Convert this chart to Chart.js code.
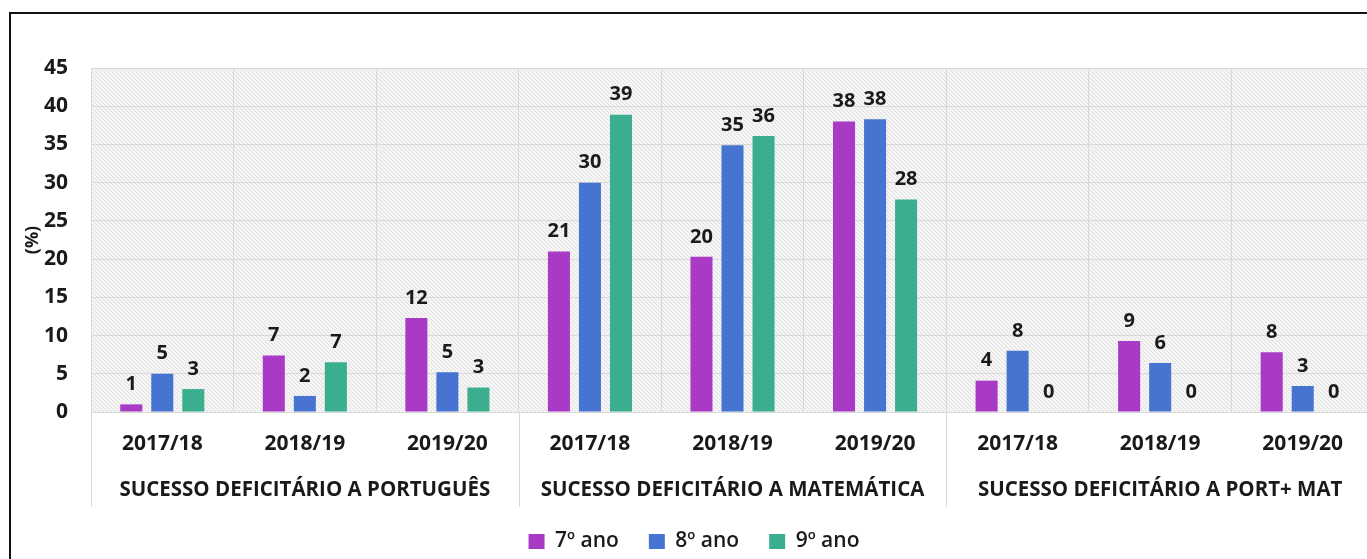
<!DOCTYPE html>
<html>
<head>
<meta charset="utf-8">
<script src="https://cdn.jsdelivr.net/npm/chart.js@4.4.0/dist/chart.umd.min.js"></script>
<style>
  html, body { margin: 0; padding: 0; background: #fff; overflow: hidden; }
  #frame { position: absolute; left: 9px; top: 12px; width: 1400px; height: 600px; border: 2px solid #111; }
  #wrap { position: absolute; left: 0; top: 0; width: 1380px; height: 562px; }
</style>
</head>
<body>
<div id="frame"></div>
<div id="wrap"><canvas id="chart"></canvas></div>
<script>
const years = ["2017/18", "2018/19", "2019/20", "2017/18", "2018/19", "2019/20", "2017/18", "2018/19", "2019/20"];
const groups = ["SUCESSO DEFICITÁRIO A PORTUGUÊS", "SUCESSO DEFICITÁRIO A MATEMÁTICA", "SUCESSO DEFICITÁRIO A PORT+ MAT"];
const seriesNames = ["7º ano", "8º ano", "9º ano"];
const ano7 = [1.0, 7.4, 12.3, 21.0, 20.3, 38.0, 4.1, 9.3, 7.8];
const ano8 = [5.0, 2.1, 5.2, 30.0, 34.9, 38.3, 8.0, 6.4, 3.4];
const ano9 = [3.0, 6.5, 3.2, 38.9, 36.1, 27.8, 0, 0, 0];
const yMax = 45;
const yStep = 5;

const colors = ["#a93ac5", "#4674d0", "#3aae8e"];
const textColor = "#1a1a1a";
const gridColor = "#d9d9d9";

Chart.defaults.font.family = "'Open Sans', sans-serif";
Chart.defaults.color = textColor;

// fine diagonal texture behind the plot
function makeHatch() {
  const c = document.createElement("canvas");
  c.width = 4;
  c.height = 4;
  const g = c.getContext("2d");
  g.fillStyle = "#f5f5f5";
  g.fillRect(0, 0, 4, 4);
  g.strokeStyle = "#e0e0e0";
  g.lineWidth = 1;
  g.beginPath();
  g.moveTo(-1, -1);
  g.lineTo(5, 5);
  g.stroke();
  return c;
}

const hatchPlugin = {
  id: "hatch",
  beforeDraw(chart) {
    const { ctx, chartArea } = chart;
    ctx.save();
    ctx.fillStyle = ctx.createPattern(makeHatch(), "repeat");
    ctx.fillRect(chartArea.left, chartArea.top, chartArea.right - chartArea.left, chartArea.bottom - chartArea.top);
    ctx.restore();
  },
};

const valueLabels = {
  id: "valueLabels",
  afterDatasetsDraw(chart) {
    const ctx = chart.ctx;
    ctx.save();
    ctx.font = "bold 20px 'Open Sans'";
    ctx.fillStyle = textColor;
    ctx.textAlign = "center";
    ctx.textBaseline = "middle";
    chart.data.datasets.forEach((ds, i) => {
      chart.getDatasetMeta(i).data.forEach((bar, j) => {
        ctx.fillText(String(Math.round(ds.data[j])), bar.x, bar.y - 20);
      });
    });
    ctx.restore();
  },
};

const groupLabels = {
  id: "groupLabels",
  afterDraw(chart) {
    const ctx = chart.ctx;
    const x = chart.scales.x;
    const bottom = chart.chartArea.bottom;
    ctx.save();
    ctx.strokeStyle = gridColor;
    ctx.lineWidth = 1;
    for (let k = 0; k <= groups.length; k++) {
      const px = Math.round(x.getPixelForValue(k * 3 - 0.5)) + 0.5;
      ctx.beginPath();
      ctx.moveTo(px, bottom);
      ctx.lineTo(px, bottom + 95);
      ctx.stroke();
    }
    ctx.font = "bold 20.5px 'Open Sans'";
    ctx.fillStyle = textColor;
    ctx.textAlign = "center";
    ctx.textBaseline = "middle";
    groups.forEach((g, k) => {
      ctx.fillText(g, x.getPixelForValue(k * 3 + 1), bottom + 78);
    });
    ctx.restore();
  },
};

const chartData = {
  labels: years,
  datasets: [ano7, ano8, ano9].map((d, i) => ({
    label: seriesNames[i],
    data: d,
    backgroundColor: colors[i],
    categoryPercentage: 0.653,
    barPercentage: 0.71,
  })),
};

const config = {
  type: "bar",
  data: chartData,
  options: {
    responsive: true,
    maintainAspectRatio: false,
    animation: false,
    layout: {
      padding: { left: 14, top: 68, right: 6, bottom: 0 },
    },
    scales: {
      x: {
        grid: { color: gridColor, drawTicks: false },
        border: { display: false },
        ticks: {
          font: { size: 21, weight: "bold" },
          padding: 19,
          maxRotation: 0,
          autoSkip: false,
        },
        afterFit(scale) {
          scale.height = 89;
        },
      },
      y: {
        min: 0,
        max: yMax,
        grid: { color: gridColor, drawTicks: false },
        border: { display: false },
        ticks: {
          stepSize: yStep,
          font: { size: 21, weight: "bold" },
          padding: 23,
        },
        title: {
          display: true,
          text: "(%)",
          font: { size: 18, weight: "bold" },
          padding: { top: 8, bottom: 0 },
        },
        afterFit(scale) {
          scale.width = 77;
        },
      },
    },
    plugins: {
      legend: {
        position: "bottom",
        labels: {
          boxWidth: 16,
          boxHeight: 15,
          padding: 30,
          font: { size: 21, weight: "600" },
          color: textColor,
        },
      },
      tooltip: { enabled: false },
    },
  },
  plugins: [hatchPlugin, valueLabels, groupLabels],
};

const ctx = document.getElementById("chart");
let chart = new Chart(ctx, config);
</script>
</body>
</html>
